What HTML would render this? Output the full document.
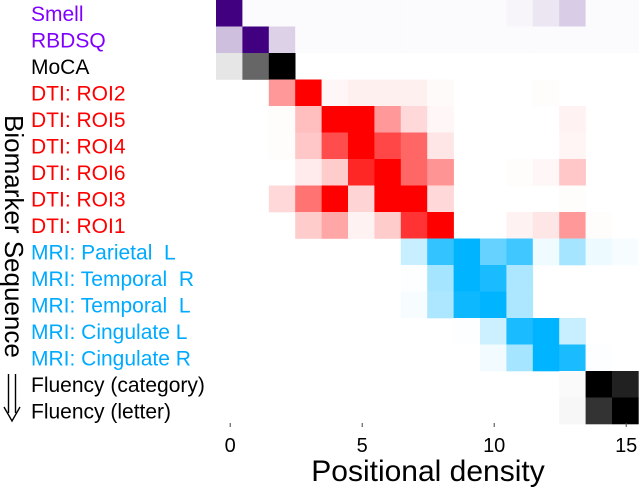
<!DOCTYPE html>
<html><head><meta charset="utf-8"><style>
html,body{margin:0;padding:0;background:#fff;}
svg{display:block;font-family:"Liberation Sans",sans-serif;}
</style></head><body>
<svg id="chart" width="640" height="488" viewBox="0 0 640 488">
<g id="cells"></g>
<g id="labels"></g>
<g id="ticks"></g>
<text x="428" y="481" font-size="30" text-anchor="middle" fill="#000">Positional density</text>
<text transform="translate(5,115) rotate(90)" font-size="26" fill="#000">Biomarker Sequence</text>
<g stroke="#000" stroke-width="1.4" fill="none">
<path d="M8.5,374 V413 M15.5,374 V413"/>
<path d="M4,407 L12,421 L20,407"/>
</g>
</svg>
<script>
const rowLabels=["Smell","RBDSQ","MoCA","DTI: ROI2","DTI: ROI5","DTI: ROI4","DTI: ROI6","DTI: ROI3","DTI: ROI1","MRI: Parietal  L","MRI: Temporal  R","MRI: Temporal  L","MRI: Cingulate L","MRI: Cingulate R","Fluency (category)","Fluency (letter)"];
const rowGroups=["purple","purple","black","red","red","red","red","red","red","blue","blue","blue","blue","blue","black","black"];
const xTicks=[0,5,10,15];
const vSmell=[1,.02,.02,.02,.02,.02,.02,.02,.02,.02,.02,.04,.1,.2,.02,.02];
const vRBDSQ=[.25,1,.18,.02,.02,.02,.02,.02,.02,.02,.02,.02,.02,.02,.02,.02];
const vMoCA=[.1,.6,1,0,0,0,0,0,0,0,0,0,0,0,0,0];
const vROI2=[0,0,.4,1,.03,.06,.06,.06,.02,0,0,0,.01,0,0,0];
const vROI5=[0,0,.01,.25,1,1,.4,.15,.03,0,0,0,0,.05,0,0];
const vROI4=[0,0,.01,.22,.7,1,.72,.6,.1,0,0,0,0,.04,0,0];
const vROI6=[0,0,0,.08,.2,.85,1,.6,.42,0,0,.01,.03,.22,0,0];
const vROI3=[0,0,.15,.55,1,.17,1,1,.15,0,0,0,0,.01,0,0];
const vROI1=[0,0,0,.2,.35,.05,.2,.8,1,0,0,.05,.1,.4,.01,0];
const vParL=[0,0,0,0,0,0,0,.22,.8,1,.6,.75,.06,.35,.07,.03];
const vTempR=[0,0,0,0,0,0,0,.01,.35,1,.9,.32,0,0,0,0];
const vTempL=[0,0,0,0,0,0,0,.03,.32,.95,1,.32,0,0,0,0];
const vCingL=[0,0,0,0,0,0,0,0,0,.01,.2,.9,1,.22,0,0];
const vCingR=[0,0,0,0,0,0,0,0,0,0,.05,.35,1,.9,.01,0];
const vFlCat=[0,0,0,0,0,0,0,0,0,0,0,0,0,.02,1,.87];
const vFlLet=[0,0,0,0,0,0,0,0,0,0,0,0,0,.03,.8,1];
const values=[vSmell,vRBDSQ,vMoCA,vROI2,vROI5,vROI4,vROI6,vROI3,vROI1,vParL,vTempR,vTempL,vCingL,vCingR,vFlCat,vFlLet];

const NS="http://www.w3.org/2000/svg";
const x0=216,cw=26.4,y0=0,rh=26.5;
const xS=c=>x0+c*cw;
const yS=r=>y0+r*rh;
const cellRGB={purple:[64,0,128],black:[0,0,0],red:[255,0,0],blue:[0,180,255]};
const labelColor={purple:"#8000ff",black:"#000",red:"#ff0000",blue:"#00aaff"};
const mix=(rgb,v)=>"rgb("+rgb.map(k=>Math.round(255+(k-255)*v)).join(",")+")";
const cells=document.getElementById("cells");
values.forEach((row,r)=>{
  row.forEach((v,c)=>{
    if(v<=0) return;
    const el=document.createElementNS(NS,"rect");
    
    
    el.setAttribute("x",xS(c));el.setAttribute("y",yS(r));
    el.setAttribute("width",cw+0.3);el.setAttribute("height",rh+0.3);
    el.setAttribute("fill",mix(cellRGB[rowGroups[r]],v));
    cells.appendChild(el);
  });
});
const labels=document.getElementById("labels");
rowLabels.forEach((t,r)=>{
  const el=document.createElementNS(NS,"text");
  
  
  el.setAttribute("x",31);el.setAttribute("y",yS(r)+rh/2+7.5);
  el.setAttribute("font-size","21");
  el.setAttribute("fill",labelColor[rowGroups[r]]);
  el.style.whiteSpace="pre";
  el.textContent=t;
  labels.appendChild(el);
});
const ticks=document.getElementById("ticks");
xTicks.forEach(t=>{
  const cx=xS(t)+cw/2+1;
  const tm=document.createElementNS(NS,"line");
  
  
  tm.setAttribute("x1",cx);tm.setAttribute("x2",cx);
  tm.setAttribute("y1",423);tm.setAttribute("y2",427);
  tm.setAttribute("stroke","#444");tm.setAttribute("stroke-width","1");
  ticks.appendChild(tm);
  const el=document.createElementNS(NS,"text");
  
  
  el.setAttribute("x",cx);el.setAttribute("y",452);
  el.setAttribute("font-size","20");el.setAttribute("text-anchor","middle");
  el.textContent=t;
  ticks.appendChild(el);
});
</script>
</body></html>
